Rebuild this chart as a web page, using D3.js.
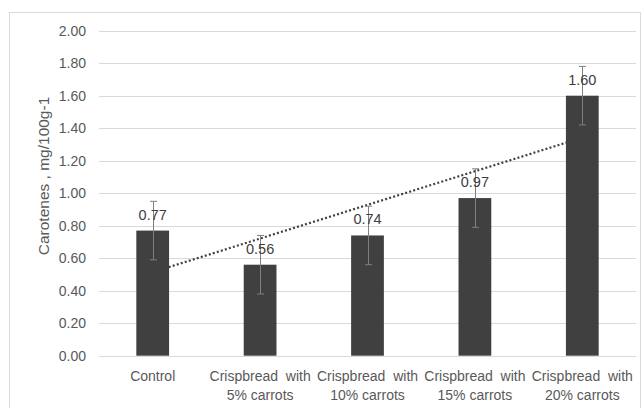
<!DOCTYPE html>
<html>
<head>
<meta charset="utf-8">
<script src="https://cdn.jsdelivr.net/npm/d3@7"></script>
<style>
  html, body { margin: 0; padding: 0; background: #fff; }
  svg text { font-family: "Liberation Sans", Arial, sans-serif; }
</style>
</head>
<body>
<svg id="chart" width="642" height="408"></svg>
<script>
// chart data
const categories = ['Control', 'Crispbread  with|5% carrots', 'Crispbread  with|10% carrots',
    'Crispbread  with|15% carrots', 'Crispbread  with|20% carrots'];
const values = [0.77, 0.56, 0.74, 0.97, 1.60];
const errors = [0.18, 0.18, 0.18, 0.18, 0.18];
const yTicks = [0, 0.2, 0.4, 0.6, 0.8, 1.0, 1.2, 1.4, 1.6, 1.8, 2.0];
const yTitle = 'Carotenes , mg/100g-1';

const svg = d3.select('#chart');
const margin = { left: 99, right: 6, top: 30.7, bottom: 52.3 };
const width = 642, height = 408;

// outer chart border
svg.append('rect')
    .attr('x', 9.5).attr('y', 12.5)
    .attr('width', 631).attr('height', 420)
    .attr('fill', 'none').attr('stroke', '#d9d9d9');

const x = d3.scaleBand()
    .domain(d3.range(categories.length))
    .range([margin.left, width - margin.right])
    .paddingInner(0.695)
    .paddingOuter(0.3475);

const y = d3.scaleLinear()
    .domain([0, 2])
    .range([height - margin.bottom, margin.top]);

// gridlines
svg.append('g')
    .selectAll('line')
    .data(yTicks)
    .enter()
    .append('line')
    .attr('x1', margin.left)
    .attr('x2', width - margin.right)
    .attr('y1', d => Math.round(y(d)) + 0.5)
    .attr('y2', d => Math.round(y(d)) + 0.5)
    .attr('stroke', '#d9d9d9')
    .attr('stroke-width', 1);

// y tick labels
svg.append('g')
    .selectAll('text')
    .data(yTicks)
    .enter()
    .append('text')
    .attr('x', 86)
    .attr('y', d => y(d))
    .attr('dy', '0.35em')
    .attr('text-anchor', 'end')
    .attr('fill', '#595959')
    .attr('font-size', 14)
    .text(d => d.toFixed(2));

// y axis title
svg.append('text')
    .attr('transform', `translate(49,176) rotate(-90)`)
    .attr('text-anchor', 'middle')
    .attr('fill', '#595959')
    .attr('font-size', 15.5)
    .text(yTitle);

// linear trendline (least squares over category index), behind the bars
const xs = d3.range(values.length);
const mx = d3.mean(xs), my = d3.mean(values);
const slope = d3.sum(xs, i => (i - mx) * (values[i] - my)) / d3.sum(xs, i => (i - mx) * (i - mx));
const icpt = my - slope * mx;
const cx = i => x(i) + x.bandwidth() / 2;

svg.append('line')
    .attr('x1', cx(0))
    .attr('y1', y(icpt))
    .attr('x2', cx(values.length - 1))
    .attr('y2', y(icpt + slope * (values.length - 1)))
    .attr('stroke', '#404040')
    .attr('stroke-width', 2.2)
    .attr('stroke-dasharray', '2,2.2');

// bars
svg.append('g')
    .selectAll('rect')
    .data(values)
    .enter()
    .append('rect')
    .attr('x', (d, i) => x(i))
    .attr('y', d => y(d))
    .attr('width', x.bandwidth())
    .attr('height', d => y(0) - y(d))
    .attr('fill', '#404040');

// error bars
const eb = svg.append('g').attr('stroke', '#7f7f7f').attr('stroke-width', 1);
values.forEach((v, i) => {
    const c = Math.round(cx(i)) + 0.5;
    eb.append('line').attr('x1', c).attr('x2', c)
        .attr('y1', y(v + errors[i])).attr('y2', y(v - errors[i]));
    [v + errors[i], v - errors[i]].forEach(e => {
        eb.append('line').attr('x1', c - 3.5).attr('x2', c + 3.5)
            .attr('y1', y(e)).attr('y2', y(e));
    });
});

// value labels
svg.append('g')
    .selectAll('text')
    .data(values)
    .enter()
    .append('text')
    .attr('x', (d, i) => cx(i))
    .attr('y', d => y(d) - 11)
    .attr('text-anchor', 'middle')
    .attr('fill', '#404040')
    .attr('font-size', 14.5)
    .text(d => d.toFixed(2));

// category labels
const cat = svg.append('g')
    .selectAll('text')
    .data(categories)
    .enter()
    .append('text')
    .attr('text-anchor', 'middle')
    .attr('fill', '#595959')
    .attr('font-size', 14)
    .attr('xml:space', 'preserve')
    .style('white-space', 'pre');

cat.each(function(d, i) {
    const lines = d.split('|');
    lines.forEach((t, k) => {
        d3.select(this).append('tspan')
            .attr('x', cx(i))
            .attr('y', 381 + k * 18.5)
            .text(t);
    });
});
</script>
</body>
</html>
